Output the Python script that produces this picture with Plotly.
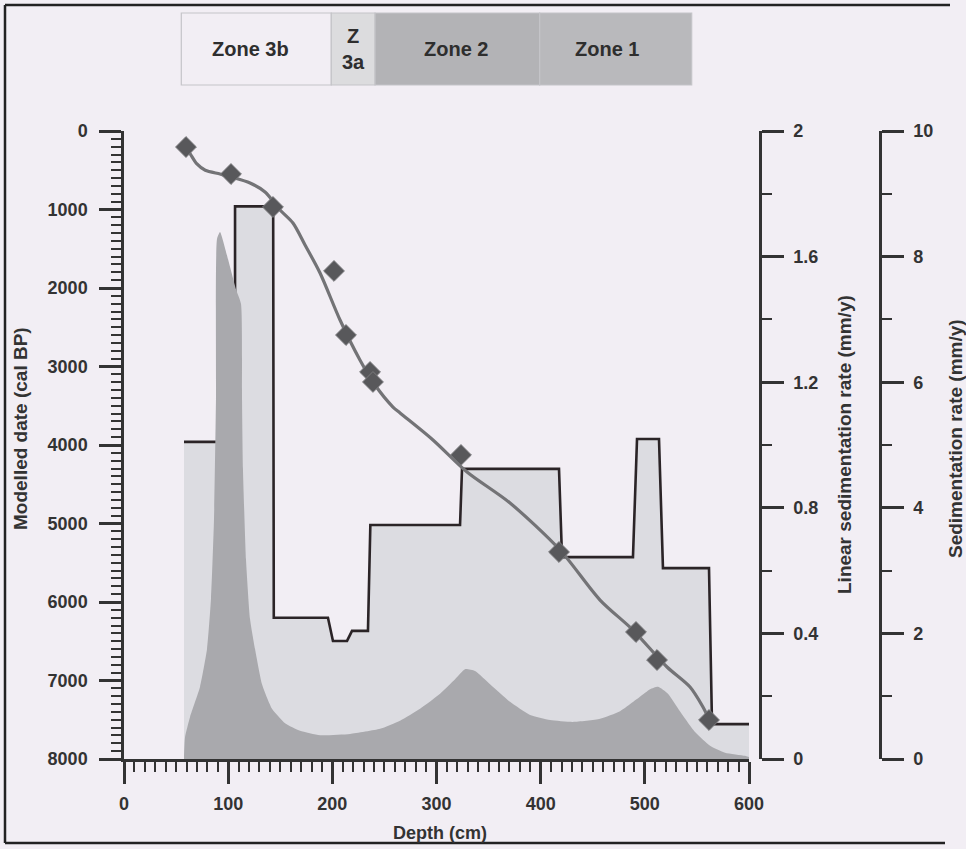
import plotly.graph_objects as go

# ---------------- data ----------------
# Dated samples (diamonds): depth (cm) vs modelled age (cal BP)
date_depth = [59.5, 102.7, 143.0, 201.6, 213.1, 236.2, 239.0, 323.5, 417.6, 491.5, 511.7, 561.6]
date_age = [204, 548, 968, 1783, 2599, 3070, 3197, 4127, 5363, 6382, 6739, 7503]

# Age-depth model curve
model_depth = [59.5, 64.0, 70.0, 78.0, 92.2, 102.7, 121.0, 135.4, 149.8, 162.2, 173.8, 188.2,
               207.4, 226.5, 241.0, 258.2, 265.0, 296.6, 329.3, 370.6, 418.6, 457.0, 488.6,
               521.3, 543.4, 555.8, 563.0]
model_age = [204, 300, 420, 500, 548, 586, 662, 777, 1006, 1172, 1452, 1809,
             2408, 2917, 3236, 3516, 3592, 3936, 4344, 4739, 5338, 5975, 6357,
             6828, 7083, 7338, 7530]

# Linear sedimentation rate (mm/y), step line
step_depth = [57.6, 106.6, 106.6, 143.2, 143.8, 195.8, 200.6, 214.1, 218.9, 234.2, 236.5,
              322.6, 324.5, 417.6, 420.5, 488.6, 492.5, 513.6, 517.4, 561.6, 564.5, 600]
step_rate = [1.01, 1.01, 1.76, 1.76, 0.45, 0.45, 0.376, 0.376, 0.408, 0.408, 0.745,
             0.745, 0.924, 0.924, 0.643, 0.643, 1.019, 1.019, 0.608, 0.608, 0.111, 0.111]

# Sedimentation rate (mm/y), grey area
sed_depth = [57.6, 58.6, 63.4, 73.0, 79.7, 83.5, 86.4, 88.3, 89.3, 92.2, 99.8, 107.5, 112.3,
             113.3, 114.2, 117.1, 121.0, 125.8, 132.5, 142.1, 154.6, 169.0, 188.2, 217.0,
             245.8, 265.0, 284.2, 303.4, 317.8, 327.4, 337.0, 351.4, 370.6, 389.8, 409.0,
             431.0, 457.0, 476.2, 495.3, 505.0, 512.6, 522.2, 533.7, 548.2, 562.6, 577.0,
             596.2, 600.0]
sed_rate = [0.05, 0.35, 0.67, 1.15, 1.75, 2.55, 3.82, 5.73, 8.28, 8.39, 7.96, 7.48, 7.25,
            5.73, 4.62, 3.18, 2.23, 1.75, 1.19, 0.80, 0.57, 0.45, 0.38, 0.40,
            0.48, 0.61, 0.80, 1.04, 1.27, 1.43, 1.40, 1.19, 0.91, 0.70, 0.62,
            0.59, 0.64, 0.76, 0.99, 1.11, 1.15, 1.04, 0.76, 0.43, 0.21, 0.10,
            0.05, 0.03]

# Zones (depth boundaries) and labels
zone_bounds = [55, 199, 241, 399, 545]
zone_names = ["Zone 3b", "Z<br>3a", "Zone 2", "Zone 1"]
zone_label_x = [121, 220, 319, 464]
zone_colors = ["rgba(0,0,0,0)", "#dcdcde", "#b3b3b6", "#b9b9bc"]

# ---------------- style ----------------
W, H = 966, 849
L, R, T, B = 124, 0, 131, 90
PW = W - L - R
PH = H - T - B
BG = "#f2eef4"
AX = "#333333"
FONT = "Liberation Sans, Arial, sans-serif"


def px_x(p):
    return (p - L) / PW


def px_y(p):
    return (H - B - p) / PH


fig = go.Figure()

# dummy trace on main axes so they are built
fig.add_trace(go.Scatter(x=[None], y=[None], xaxis="x", yaxis="y", showlegend=False))

# step line with light fill
fig.add_trace(go.Scatter(
    x=step_depth, y=step_rate, xaxis="x", yaxis="y2", mode="lines",
    line=dict(color="#2b2427", width=2.6), fill="tozeroy", fillcolor="#dcdce1",
    showlegend=False))

# grey sedimentation-rate area
fig.add_trace(go.Scatter(
    x=sed_depth, y=sed_rate, xaxis="x", yaxis="y3", mode="lines",
    line=dict(color="#a9a9ad", width=0, shape="spline", smoothing=0.5),
    fill="tozeroy", fillcolor="#a9a9ad",
    showlegend=False))

# age-depth curve
fig.add_trace(go.Scatter(
    x=model_depth, y=model_age, xaxis="x", yaxis="y4", mode="lines",
    line=dict(color="#737376", width=3.2, shape="spline", smoothing=0.8),
    showlegend=False))

fig.add_trace(go.Scatter(
    x=date_depth, y=date_age, xaxis="x", yaxis="y4", mode="markers",
    marker=dict(symbol="diamond", size=16, color="#58585b",
                line=dict(color="#7a7a7d", width=1)),
    showlegend=False))

tickfont = dict(family=FONT, size=18, color=AX, weight="bold")

fig.update_layout(
    width=W, height=H,
    margin=dict(l=L, r=R, t=T, b=B, pad=0),
    paper_bgcolor=BG, plot_bgcolor="rgba(0,0,0,0)",
    showlegend=False,
    xaxis=dict(domain=[0, 625 / PW], range=[0, 600], showgrid=False, zeroline=False,
               showline=True, linecolor=AX, linewidth=2.5,
               ticks="outside", ticklen=22, tickwidth=2.5, tickcolor=AX,
               dtick=100, tick0=0, tickfont=tickfont, ticklabelstandoff=5,
               minor=dict(ticks="outside", dtick=10, ticklen=10, tickwidth=2, tickcolor=AX),
               automargin=False),
    yaxis=dict(range=[8000, 0], showgrid=False, zeroline=False,
               showline=True, linecolor=AX, linewidth=2.5,
               ticks="outside", ticklen=22, tickwidth=2.5, tickcolor=AX,
               dtick=1000, tick0=0, tickfont=tickfont, ticklabelstandoff=8,
               minor=dict(ticks="outside", dtick=100, ticklen=10, tickwidth=2, tickcolor=AX),
               automargin=False),
    yaxis2=dict(range=[0, 2], overlaying="y", anchor="free", position=px_x(760), side="right",
                showgrid=False, zeroline=False, showline=True, linecolor=AX, linewidth=2.5,
                ticks="outside", ticklen=22, tickwidth=2.5, tickcolor=AX,
                dtick=0.4, tick0=0, tickfont=tickfont, ticklabelstandoff=6,
                minor=dict(ticks="outside", dtick=0.2, ticklen=10, tickwidth=2, tickcolor=AX),
                automargin=False),
    yaxis3=dict(range=[0, 10], overlaying="y", anchor="free", position=px_x(880), side="right",
                showgrid=False, zeroline=False, showline=True, linecolor=AX, linewidth=2.5,
                ticks="outside", ticklen=22, tickwidth=2.5, tickcolor=AX,
                dtick=2, tick0=0, tickfont=tickfont, ticklabelstandoff=6,
                minor=dict(ticks="outside", dtick=1, ticklen=10, tickwidth=2, tickcolor=AX),
                automargin=False),
    yaxis4=dict(range=[8000, 0], overlaying="y", visible=False),
)

ann = [
    dict(text="Modelled date (cal BP)", x=px_x(20), y=px_y(429), textangle=-90, size=19),
    dict(text="Depth (cm)", x=px_x(440), y=px_y(833), textangle=0, size=18),
    dict(text="Linear sedimentation rate (mm/y)", x=px_x(844), y=px_y(445), textangle=-90, size=19),
    dict(text="Sedimentation rate (mm/y)", x=px_x(955), y=px_y(439), textangle=-90, size=19),
]
for a in ann:
    sz = a.pop("size")
    fig.add_annotation(xref="paper", yref="paper", showarrow=False,
                       font=dict(family=FONT, size=sz, color=AX, weight="bold"),
                       xanchor="center", yanchor="middle", **a)

# zone band
band_y0, band_y1 = px_y(85), px_y(13)
for i, c in enumerate(zone_colors):
    fig.add_shape(type="rect", xref="x", yref="paper",
                  x0=zone_bounds[i], x1=zone_bounds[i + 1], y0=band_y0, y1=band_y1,
                  fillcolor=c, line=dict(color="#c4c4c8", width=1.2), layer="below")
for name, lx in zip(zone_names, zone_label_x):
    fig.add_annotation(xref="x", yref="paper", x=lx, y=(band_y0 + band_y1) / 2,
                       text=name, showarrow=False,
                       font=dict(family=FONT, size=20, color="#2e2e2e", weight="bold"),
                       xanchor="center", yanchor="middle")

# scanned page frame (left, top, bottom edges)
frame = dict(color="#222222", width=2.5)
fig.add_shape(type="line", xref="paper", yref="paper",
              x0=px_x(5), x1=px_x(5), y0=px_y(843), y1=px_y(5), line=frame, layer="below")
fig.add_shape(type="line", xref="paper", yref="paper",
              x0=px_x(5), x1=px_x(950), y0=px_y(5), y1=px_y(5), line=frame, layer="below")
fig.add_shape(type="line", xref="paper", yref="paper",
              x0=px_x(5), x1=px_x(945), y0=px_y(843), y1=px_y(843), line=frame, layer="below")

fig.write_html("out.html")
